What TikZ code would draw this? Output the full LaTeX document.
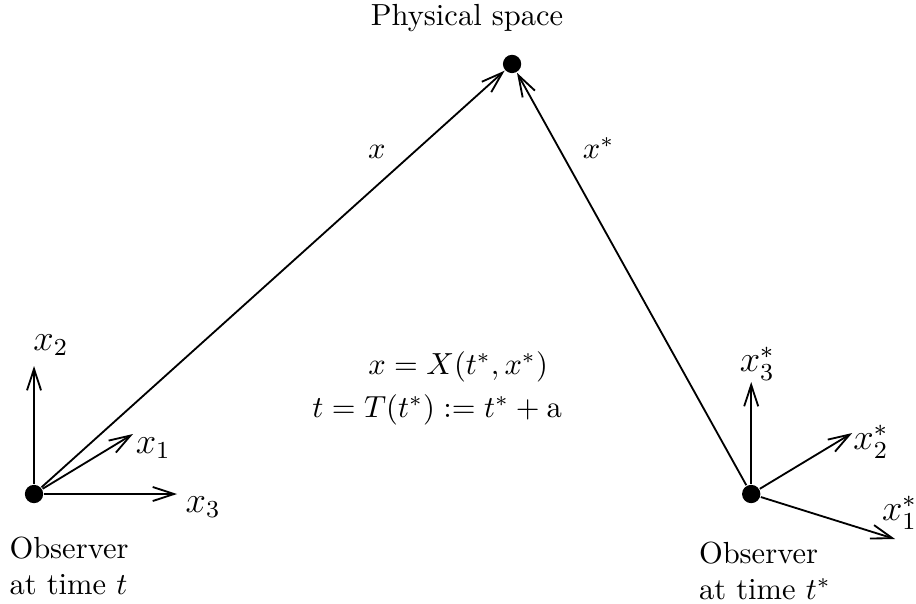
\documentclass[tikz,border=0pt]{standalone}
\usepackage{amsmath,amssymb}
\usepackage{tikz}
\usetikzlibrary{arrows.meta}
\tikzset{
  dot/.style={circle,fill=black,inner sep=0pt,minimum size=6pt},
  axlabel/.style={font=\large,inner sep=0pt},
  obslabel/.style={align=left,inner sep=0pt}
}

\begin{document}
\begin{tikzpicture}[>={Straight Barb[length=7pt,width=4.6pt]},line width=0.6pt]
\useasboundingbox (0,0) rectangle (10.55,6.946);

% the three points
\node[dot] (phys) at (5.898,6.209) {};
\node[dot] (obs) at (0.392,1.256) {};
\node[dot] (obsb) at (8.652,1.256) {};
\node (physlabel) at (5.38,6.739) {Physical space};

% frame of the observer at time t
\coordinate (xa) at (1.532,1.947); \coordinate (xb) at (0.392,2.730); \coordinate (xc) at (2.039,1.256);
\draw[->] (obs) -- (xa); \draw[->] (obs) -- (xb); \draw[->] (obs) -- (xc);
\node[axlabel] (lxa) at (1.765,1.786) {$x_1$};
\node[axlabel] (lxb) at (0.586,2.972) {$x_2$};
\node[axlabel] (lxc) at (2.34,1.106) {$x_3$};
\node[obslabel] (obslabel) at (0.795,0.429) {Observer\\at time $t$};

% frame of the observer at time t*
\coordinate (ya) at (10.310,0.737); \coordinate (yb) at (9.815,1.958); \coordinate (yc) at (8.652,2.546);
\draw[->] (obsb) -- (ya); \draw[->] (obsb) -- (yb); \draw[->] (obsb) -- (yc);
\node[axlabel] (lya) at (10.36,1.037) {$x^*_1$};
\node[axlabel] (lyb) at (10.03,1.855) {$x^*_2$};
\node[axlabel] (lyc) at (8.721,2.752) {$x^*_3$};
\node[obslabel] (obsblabel) at (8.81,0.37) {Observer\\at time $t^*$};

% position vectors
\draw[->] (obs) -- (phys);
\draw[->] (obsb) -- (phys);
\node (lx) at (4.340,5.199) {$x$};
\node (lxs) at (6.895,5.242) {$x^*$};

\node (eqa) at (5.276,2.715) {$x = X(t^*,x^*)$};
\node (eqb) at (5.034,2.223) {$t = T(t^*) := t^* + \mathrm{a}$};
\end{tikzpicture}
\end{document}
